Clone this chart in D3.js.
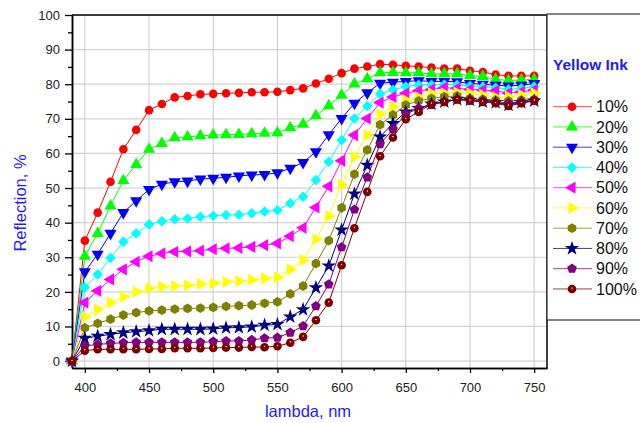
<!DOCTYPE html>
<html>
<head>
<meta charset="utf-8">
<script src="https://cdn.jsdelivr.net/npm/d3@7"></script>
<style>
body { margin: 0; background: #fff; }
text { font-family: "Liberation Sans", Arial, sans-serif; }
</style>
</head>
<body>
<script>
// wavelengths, nm
var wavelength = [390, 400, 410, 420, 430, 440, 450, 460, 470, 480, 490, 500, 510, 520, 530, 540, 550, 560, 570,
                  580, 590, 600, 610, 620, 630, 640, 650, 660, 670, 680, 690, 700, 710, 720, 730, 740, 750];

// reflection, %
var ink10  = [0, 34.8, 42.9, 51.8, 61.2, 66.8, 72.5, 74.3, 76.2, 76.6, 77.1, 77.2, 77.4, 77.5, 77.7, 77.7, 77.8, 78.3, 78.8,
              80.2, 81.6, 83.2, 84.5, 85.1, 85.8, 85.6, 85.3, 85.1, 84.8, 84.5, 84.5, 83.9, 83.5, 82.8, 82.4, 82.4, 82.4];
var ink20  = [0, 30.3, 36.9, 44.8, 52.2, 56.8, 61.2, 62.9, 64.5, 64.8, 65.1, 65.3, 65.4, 65.5, 65.7, 65.8, 66.0, 67.4, 68.4,
              70.9, 73.8, 76.8, 80.1, 81.6, 83.3, 83.4, 83.3, 83.3, 83.0, 83.0, 83.0, 82.5, 82.2, 81.4, 81.1, 81.2, 81.4];
var ink30  = [0, 25.8, 30.9, 36.9, 42.9, 46.3, 49.6, 51.1, 51.8, 52.0, 52.6, 52.8, 53.1, 53.5, 53.8, 53.9, 54.4, 55.7, 57.4,
              60.5, 65.4, 70.1, 74.5, 77.5, 80.3, 80.6, 80.8, 81.0, 80.8, 80.8, 80.7, 80.2, 80.0, 79.7, 79.5, 79.7, 80.2];
var ink40  = [0, 21.3, 25.0, 29.8, 34.5, 36.9, 39.5, 40.4, 41.0, 41.2, 41.7, 42.0, 42.2, 42.3, 42.7, 43.2, 43.6, 45.6, 47.5,
              52.3, 57.6, 63.9, 70.1, 73.7, 77.2, 78.4, 79.3, 79.8, 79.8, 79.9, 79.8, 79.5, 79.3, 79.0, 78.5, 78.8, 79.3];
var ink50  = [0, 16.9, 20.3, 23.6, 26.5, 28.7, 30.3, 31.1, 31.6, 31.7, 31.9, 32.3, 32.6, 32.7, 33.0, 33.5, 34.0, 36.1, 38.5,
              44.4, 50.5, 57.9, 65.3, 70.1, 74.7, 76.3, 77.4, 78.1, 78.5, 79.0, 78.8, 78.5, 78.3, 78.1, 77.4, 77.8, 78.3];
var ink60  = [0, 12.8, 14.9, 16.9, 18.6, 20.0, 21.0, 21.5, 21.7, 21.9, 22.3, 22.5, 22.9, 23.1, 23.5, 23.9, 24.2, 26.5, 29.2,
              35.2, 41.9, 50.9, 59.0, 65.3, 71.4, 73.5, 75.4, 76.2, 77.4, 77.4, 77.6, 77.4, 76.9, 76.2, 76.4, 76.9, 77.4];
var ink70  = [0, 9.6, 10.9, 12.1, 13.3, 14.0, 14.5, 14.7, 15.0, 15.2, 15.3, 15.5, 15.8, 16.0, 16.2, 16.7, 17.1, 19.4, 21.7,
              28.2, 34.8, 44.3, 54.0, 61.0, 68.3, 71.1, 74.0, 75.2, 75.9, 76.4, 76.6, 75.9, 75.6, 75.4, 75.2, 75.4, 75.6];
var ink80  = [0, 6.6, 7.2, 7.7, 8.2, 8.5, 8.8, 9.2, 9.2, 9.2, 9.2, 9.3, 9.6, 9.7, 9.9, 10.4, 10.6, 12.8, 14.9,
              21.2, 27.5, 37.9, 48.3, 56.6, 64.8, 68.7, 72.0, 73.0, 74.3, 74.9, 75.6, 75.4, 74.9, 74.7, 74.0, 74.7, 75.2];
var ink90  = [0, 4.4, 4.8, 5.1, 5.3, 5.4, 5.4, 5.4, 5.4, 5.4, 5.4, 5.6, 5.8, 5.8, 6.1, 6.6, 6.8, 8.2, 10.1,
              15.9, 22.2, 32.9, 43.8, 53.1, 62.7, 67.0, 71.4, 73.0, 74.0, 74.9, 75.6, 75.4, 75.2, 74.7, 74.5, 74.9, 75.4];
var ink100 = [0, 3.0, 3.4, 3.4, 3.4, 3.4, 3.5, 3.5, 3.7, 3.7, 3.7, 3.8, 3.9, 3.9, 4.1, 4.0, 4.3, 5.3, 7.0,
              11.8, 16.9, 27.7, 38.4, 48.9, 59.2, 64.6, 69.9, 72.0, 74.3, 74.9, 75.6, 75.2, 74.9, 74.5, 73.7, 74.5, 75.2];

var seriesNames = ["10%", "20%", "30%", "40%", "50%", "60%", "70%", "80%", "90%", "100%"];
var seriesValues = [ink10, ink20, ink30, ink40, ink50, ink60, ink70, ink80, ink90, ink100];
var seriesColors = ["#ff0000", "#00ff00", "#0000ff", "#00ffff", "#ff00ff", "#ffff00", "#808000", "#000080", "#800080", "#800000"];
var seriesMarkers = ["circle", "up", "down", "diamond", "left", "right", "hexagon", "star", "pentagon", "sphere"];

var xTicks = [400, 450, 500, 550, 600, 650, 700, 750];
var xMinor = [425, 475, 525, 575, 625, 675, 725];
var yTicks = [0, 10, 20, 30, 40, 50, 60, 70, 80, 90, 100];
var yMinor = [5, 15, 25, 35, 45, 55, 65, 75, 85, 95];

var margin = {top: 15, right: 93, bottom: 55, left: 72},
    width = 640 - margin.left - margin.right,
    height = 423 - margin.top - margin.bottom;

var titleBlue = "#1c1cff";

var svg = d3.select("body")
    .append("svg")
        .attr("width", 640)
        .attr("height", 423)
        .style("display", "block");

var defs = svg.append("defs");
var grad = defs.append("radialGradient")
    .attr("id", "sphere")
    .attr("cx", "50%").attr("cy", "50%").attr("r", "50%")
    .attr("fx", "50%").attr("fy", "38%");
grad.append("stop").attr("offset", "0%").attr("stop-color", "#ffffff");
grad.append("stop").attr("offset", "9%").attr("stop-color", "#f4dcdc");
grad.append("stop").attr("offset", "22%").attr("stop-color", "#8a0000");
grad.append("stop").attr("offset", "100%").attr("stop-color", "#700000");

var g = svg.append("g")
    .attr("transform", "translate(" + margin.left + "," + margin.top + ")");

var x = d3.scaleLinear().domain([390, 760]).range([0, width]);
var y = d3.scaleLinear().domain([-2, 100]).range([height, 0]);

// grid
g.selectAll(".vgrid")
    .data(xTicks)
    .enter().append("line")
        .attr("x1", function(d) { return x(d); })
        .attr("x2", function(d) { return x(d); })
        .attr("y1", 0)
        .attr("y2", height)
        .style("stroke", "#d2d2d2")
        .style("stroke-width", 1.2);

g.selectAll(".hgrid")
    .data(yTicks)
    .enter().append("line")
        .attr("x1", 0)
        .attr("x2", width)
        .attr("y1", function(d) { return y(d); })
        .attr("y2", function(d) { return y(d); })
        .style("stroke", "#d2d2d2")
        .style("stroke-width", 1.2);

// axes
g.append("g")
    .call(d3.axisLeft(y).tickValues(yTicks).tickSize(7).tickSizeOuter(0).tickPadding(5));
g.append("g")
    .call(d3.axisLeft(y).tickValues(yMinor).tickSize(4).tickSizeOuter(0).tickFormat(""));

g.append("g")
    .attr("transform", "translate(0," + height + ")")
    .call(d3.axisBottom(x).tickValues(xTicks).tickSize(5).tickSizeOuter(0).tickPadding(9.5));
g.append("g")
    .attr("transform", "translate(0," + height + ")")
    .call(d3.axisBottom(x).tickValues(xMinor).tickSize(3).tickSizeOuter(0).tickFormat(""));

g.selectAll(".domain").style("stroke", "#000").style("stroke-width", 1.5);
g.selectAll(".tick line").style("stroke", "#000").style("stroke-width", 1.3);
g.selectAll(".tick text")
    .style("font-family", "'Liberation Sans', Arial, sans-serif")
    .style("font-size", "13px")
    .style("fill", "#222");

// top and right frame
g.append("line")
    .attr("x1", 0).attr("x2", width).attr("y1", 0).attr("y2", 0)
    .style("stroke", "#000").style("stroke-width", 1.5);
g.append("line")
    .attr("x1", width).attr("x2", width).attr("y1", 0).attr("y2", height)
    .style("stroke", "#000").style("stroke-width", 1.5);

// markers
function polygon(n, r, start) {
    var pts = [];
    for (var i = 0; i < n; i++) {
        var a = start + i * 2 * Math.PI / n;
        pts.push([r * Math.cos(a), r * Math.sin(a)]);
    }
    return "M" + pts.join("L") + "Z";
}

function markerPath(kind) {
    if (kind == "circle" || kind == "sphere") return d3.symbol(d3.symbolCircle, 58)();
    if (kind == "up" || kind == "down" || kind == "left" || kind == "right") return d3.symbol(d3.symbolTriangle, 64)();
    if (kind == "diamond") return d3.symbol(d3.symbolSquare, 56)();
    if (kind == "star") return d3.symbol(d3.symbolStar, 66)();
    if (kind == "hexagon") return polygon(6, 4.9, -Math.PI / 2);
    if (kind == "pentagon") return polygon(5, 5.1, -Math.PI / 2);
}

function markerRotate(kind) {
    if (kind == "down") return 180;
    if (kind == "left") return -90;
    if (kind == "right") return 90;
    if (kind == "diamond") return 45;
    return 0;
}

function drawMarker(sel, kind, color, px, py) {
    sel.append("path")
        .attr("d", markerPath(kind))
        .attr("transform", "translate(" + px + "," + py + ") rotate(" + markerRotate(kind) + ")")
        .style("fill", kind == "sphere" ? "url(#sphere)" : color)
        .style("stroke", "none");
}

var line = d3.line()
    .x(function(d, i) { return x(wavelength[i]); })
    .y(function(d) { return y(d); });

seriesValues.forEach(function(vals, s) {
    var sg = g.append("g");
    sg.append("path")
        .datum(vals)
        .attr("d", line)
        .style("fill", "none")
        .style("stroke", seriesColors[s])
        .style("stroke-width", 1);
    vals.forEach(function(v, i) {
        drawMarker(sg, seriesMarkers[s], seriesColors[s], x(wavelength[i]), y(v));
    });
});

// axis titles
svg.append("text")
    .text("Reflection, %")
    .attr("transform", "translate(25.5,203) rotate(-90)")
    .attr("text-anchor", "middle")
    .style("font-size", "16.5px")
    .style("fill", titleBlue);

svg.append("text")
    .text("lambda, nm")
    .attr("x", 308)
    .attr("y", 417)
    .attr("text-anchor", "middle")
    .style("font-size", "16.5px")
    .style("fill", titleBlue);

// legend
var legend = svg.append("g");
legend.append("rect")
    .attr("x", 547)
    .attr("y", 14)
    .attr("width", 100)
    .attr("height", 306)
    .style("fill", "#fff")
    .style("stroke", "#333")
    .style("stroke-width", 1.2);

legend.append("text")
    .text("Yellow Ink")
    .attr("x", 553)
    .attr("y", 70)
    .style("font-size", "15.5px")
    .style("font-weight", "bold")
    .style("fill", titleBlue);

seriesNames.forEach(function(name, s) {
    var cy = 106.7 + s * 20.25;
    legend.append("line")
        .attr("x1", 553).attr("x2", 592)
        .attr("y1", cy).attr("y2", cy)
        .style("stroke", seriesColors[s])
        .style("stroke-width", 1)
        .style("opacity", 0.75);
    drawMarker(legend, seriesMarkers[s], seriesColors[s], 572, cy);
    legend.append("text")
        .text(name)
        .attr("x", 596)
        .attr("y", cy + 5.6)
        .style("font-size", "16px")
        .style("fill", "#111");
});
</script>
</body>
</html>
